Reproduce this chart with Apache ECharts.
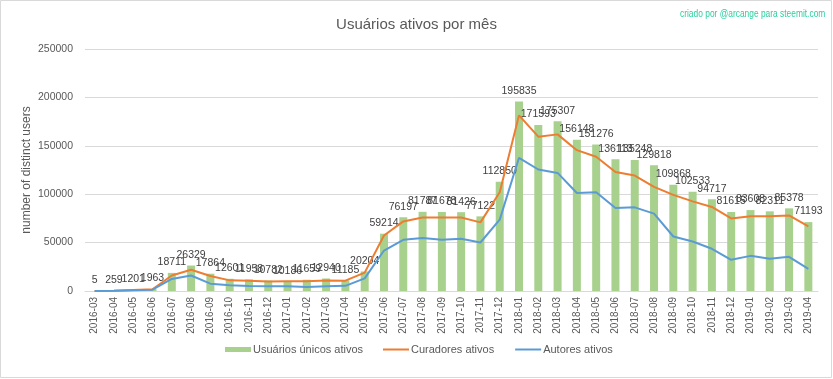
<!DOCTYPE html>
<html>
<head>
<meta charset="utf-8">
<script src="https://cdn.jsdelivr.net/npm/echarts@6/dist/echarts.min.js"></script>
<style>
html,body{margin:0;padding:0;background:#fff;}
#c{width:833px;height:379px;}
</style>
</head>
<body>
<div id="c"></div>
<script>
const months = ['2016-03','2016-04','2016-05','2016-06','2016-07','2016-08','2016-09','2016-10','2016-11','2016-12',
'2017-01','2017-02','2017-03','2017-04','2017-05','2017-06','2017-07','2017-08','2017-09','2017-10','2017-11','2017-12',
'2018-01','2018-02','2018-03','2018-04','2018-05','2018-06','2018-07','2018-08','2018-09','2018-10','2018-11','2018-12',
'2019-01','2019-02','2019-03','2019-04'];
const uniqueUsers = [5,259,1201,1963,18711,26329,17864,12601,11958,10782,
10186,11659,12940,11185,20204,59214,76197,81787,81678,81426,77122,112850,
195835,171593,175307,156148,151276,136113,135248,129818,109868,102533,94717,81615,
83608,82311,85378,71193];
const curators = [4,230,1050,1800,16000,22000,15500,11000,10500,9800,
10100,10100,10900,10700,19000,57400,71900,76000,76000,76000,70900,102000,
181500,159400,161800,145500,138700,123000,119300,107600,99300,92600,86800,75000,
77100,77100,78100,66700];
const authors = [3,180,800,1400,12500,16000,7600,5900,5200,4800,
4800,4200,4800,5300,13000,41800,52900,54700,52900,54000,50100,73700,
137600,125500,122000,101300,102000,85800,86400,79900,56300,51100,43600,32200,
36300,33200,35300,22800];
const yTicks = {min:0, max:250000, interval:50000};
const yAxisTitle = 'number of distinct users';

const chart = echarts.init(document.getElementById('c'));
const font = 'Liberation Sans';
const legendText = {fontFamily:font, fontSize:11, color:'#595959', padding:[0,0,0,-3]};
chart.setOption({
  animation:false,
  backgroundColor:'#fff',
  textStyle:{fontFamily:font},
  title:[
    {text:'Usuários ativos por mês', left:'center', top:12,
     textStyle:{fontFamily:font, fontSize:15, fontWeight:'normal', color:'#595959'}}
  ],
  graphic:[
    {type:'rect', shape:{x:0.5,y:0.5,width:831,height:377}, style:{fill:'none', stroke:'#d9d9d9', lineWidth:1}, silent:true, z:-1},
    {type:'text', x:680, y:9, scaleX:0.8, style:{text:'criado por @arcange para steemit.com', font:'10.5px "Liberation Sans"', fill:'#2acf9f'}, silent:true},
    {type:'text', x:27, y:170, rotation:Math.PI/2,
     style:{text:yAxisTitle, font:'12px "Liberation Sans"', fill:'#595959', align:'center', verticalAlign:'middle'}, silent:true}
  ],
  grid:{left:85, right:15, top:49, bottom:88},
  legend:[
    {left:220, bottom:19, itemWidth:26, itemHeight:5, icon:'rect',
     textStyle:legendText, data:['Usuários únicos ativos']},
    {left:378, bottom:19, itemGap:21, itemWidth:26, itemHeight:2, icon:'rect',
     textStyle:legendText, data:['Curadores ativos','Autores ativos']}
  ],
  xAxis:{
    type:'category', data:months,
    axisLine:{lineStyle:{color:'#d9d9d9'}},
    axisTick:{show:false},
    axisLabel:{rotate:90, interval:0, fontSize:10, color:'#595959', margin:6}
  },
  yAxis:{
    type:'value', min:yTicks.min, max:yTicks.max, interval:yTicks.interval,
    axisLine:{show:false}, axisTick:{show:false},
    axisLabel:{fontSize:10.5, color:'#595959', margin:12, formatter:v => String(v)},
    splitLine:{lineStyle:{color:'#d9d9d9'}}
  },
  series:[
    {name:'Usuários únicos ativos', type:'bar', data:uniqueUsers, barWidth:8,
     itemStyle:{color:'#a9d18e'},
     label:{show:true, position:'top', distance:5, fontSize:10.5, color:'#404040', formatter:p => String(p.value)}},
    {name:'Curadores ativos', type:'line', data:curators, symbol:'none',
     lineStyle:{color:'#ed7d31', width:2}, itemStyle:{color:'#ed7d31'}},
    {name:'Autores ativos', type:'line', data:authors, symbol:'none',
     lineStyle:{color:'#5b9bd5', width:2}, itemStyle:{color:'#5b9bd5'}}
  ]
});
</script>
</body>
</html>
